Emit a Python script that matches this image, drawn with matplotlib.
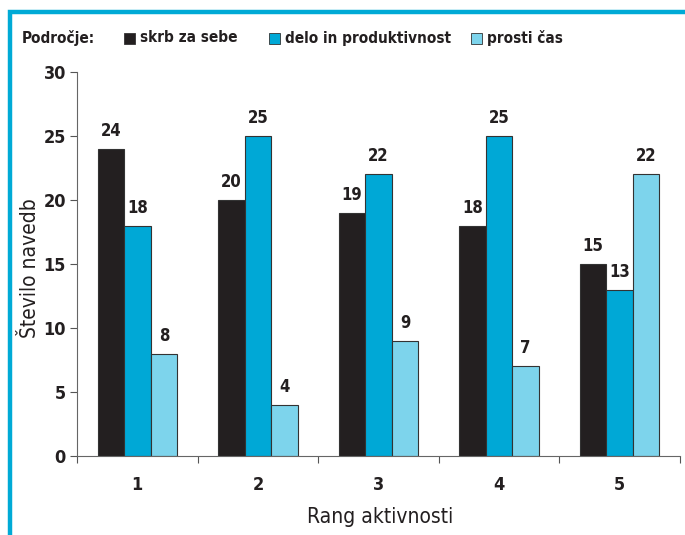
import numpy as np
import matplotlib.pyplot as plt
from matplotlib.patches import Rectangle
from matplotlib.lines import Line2D

# ============================================================
# DATA
# ============================================================
ranks = ["1", "2", "3", "4", "5"]
series_names = ["skrb za sebe", "delo in produktivnost", "prosti čas"]
skrb = [24, 20, 19, 18, 15]
delo = [18, 25, 22, 25, 13]
prosti = [8, 4, 9, 7, 22]

colors = ["#231f20", "#00a8d6", "#7dd4ec"]
frame_blue = "#00aad6"

plt.rcParams["font.family"] = ["DejaVu Sans"]
plt.rcParams["font.stretch"] = "condensed"

# ============================================================
# FIGURE
# ============================================================
W, H = 685, 535
fig = plt.figure(figsize=(W / 100, H / 100), dpi=100)
ax = fig.add_axes([77 / W, 1 - 456 / H, (680 - 77) / W, (456 - 72) / H])

x = np.arange(len(ranks))
bw = 0.22
for k, vals in enumerate([skrb, delo, prosti]):
    pos = x + (k - 1) * bw
    ax.bar(pos, vals, width=bw, color=colors[k], edgecolor="#333333",
           linewidth=0.8, zorder=2)
    for p, v in zip(pos, vals):
        ax.text(p, v + 0.7, str(v), ha="center", va="bottom",
                fontsize=12, fontweight="bold", color="#231f20")

ax.set_xlim(-0.5, len(ranks) - 0.5)
ax.set_ylim(0, 30)
ax.set_yticks(range(0, 31, 5))
ax.tick_params(axis="y", labelsize=13, length=5, width=0.8, color="#555555",
               pad=3, labelcolor="#231f20")
for t in ax.get_yticklabels():
    t.set_fontweight("bold")

# group boundary ticks on x, labels centered in groups
ax.set_xticks(np.arange(-0.5, len(ranks), 1.0))
ax.set_xticklabels([])
ax.tick_params(axis="x", length=5, width=0.8, color="#555555")
for xi, lab in zip(x, ranks):
    ax.text(xi, -2.3, lab, ha="center", va="center", fontsize=13,
            fontweight="bold", color="#231f20")

for s in ["top", "right"]:
    ax.spines[s].set_visible(False)
ax.spines["left"].set_color("#666666")
ax.spines["bottom"].set_color("#666666")
ax.spines["left"].set_linewidth(0.8)
ax.spines["bottom"].set_linewidth(0.8)

fig.text(380 / W, 1 - 517 / H, "Rang aktivnosti", ha="center", va="center",
         fontsize=15, color="#231f20")
fig.text(30 / W, 1 - 268 / H, "Število navedb", ha="center", va="center",
         rotation=90, fontsize=15, color="#231f20")

# legend row
ly = 1 - 38 / H
fig.text(22 / W, ly, "Področje:", ha="left", va="center", fontsize=11,
         fontweight="bold", color="#231f20")
box_x = [124, 269, 471]
for bx, name, c in zip(box_x, series_names, colors):
    fig.patches.append(Rectangle((bx / W, 1 - 44 / H), 11 / W, 11 / H,
                                 transform=fig.transFigure, facecolor=c,
                                 edgecolor="#333333", linewidth=0.6))
    fig.text((bx + 16) / W, ly, name, ha="left", va="center", fontsize=11,
             fontweight="bold", color="#231f20")

# blue frame (top and left)
fig.lines.append(Line2D([10 / W, 10 / W, 1.0], [0.0, 1 - 12 / H, 1 - 12 / H],
                        transform=fig.transFigure, color=frame_blue,
                        linewidth=3.2, solid_joinstyle="miter"))

fig.savefig("out.png", dpi=100)
